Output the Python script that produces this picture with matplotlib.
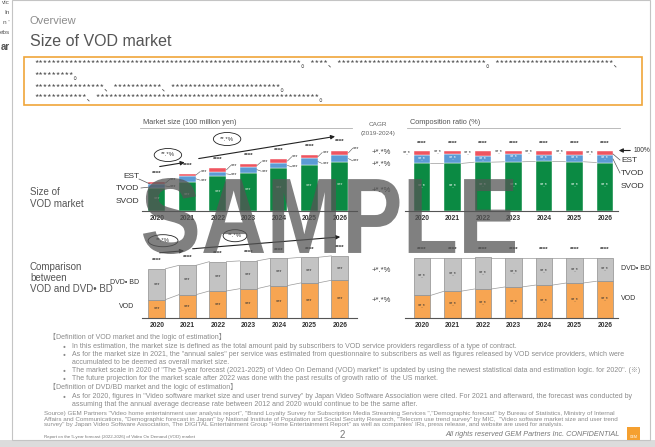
"""Slide recreation: Size of VOD market (market size, composition, VOD vs DVD/BD)."""
import matplotlib
matplotlib.use("Agg")
import matplotlib.pyplot as plt
from matplotlib.font_manager import FontProperties
from matplotlib.patches import Ellipse, PathPatch, Rectangle
from matplotlib.textpath import TextPath
from matplotlib.transforms import Affine2D
import numpy as np

plt.rcParams["font.family"] = ["Liberation Sans", "Noto Sans CJK JP", "DejaVu Sans"]

W, H = 655, 447

YEARS = ["2020", "2021", "2022", "2023", "2024", "2025", "2026"]
# market size (100 million yen)
SVOD = [2300, 2930, 3500, 3830, 4270, 4600, 4870]
TVOD = [400, 570, 430, 600, 560, 670, 730]
EST = [200, 200, 370, 240, 340, 330, 430]
DVD_BD = [5000, 4750, 4750, 4500, 4400, 4150, 3950]

SEGMENTS_VOD = ["EST", "TVOD", "SVOD"]
SEGMENTS_CMP = ["DVD• BD", "VOD"]
CAGR_VOD = ["+*.*%", "+*.*%", "+*.*%"]
CAGR_CMP = ["+*.*%", "+*.*%"]
GROWTH_VOD = ["**.*%", "**.*%"]
GROWTH_CMP = ["**.*%", "**.*%"]
TOTAL_LABEL = "****"
VALUE_LABEL = "***"
SHARE_LABEL = "**.*"

GREEN = "#0b8a43"
BLUE = "#5b9bd5"
RED = "#ef5560"
GRAY_BAR = "#c3c3c3"
ORANGE = "#f7a552"
TXT = "#404040"
LIGHT = "#8a8a8a"


def fx(x):
    return x / W


def fy(y):
    return 1 - y / H


def add_ax(fig, left, top, right, bottom, xlim, ylim):
    ax = fig.add_axes([fx(left), fy(bottom), (right - left) / W, (bottom - top) / H])
    ax.set_xlim(*xlim)
    ax.set_ylim(*ylim)
    ax.patch.set_alpha(0)
    for s in ["top", "right", "left"]:
        ax.spines[s].set_visible(False)
    ax.spines["bottom"].set_color("#555555")
    ax.spines["bottom"].set_linewidth(0.8)
    ax.set_yticks([])
    ax.set_xticks(range(len(YEARS)))
    ax.set_xticklabels(YEARS, fontsize=4.9, fontweight="bold", color="#333333")
    ax.tick_params(axis="x", length=0, pad=3.2)
    return ax


def ftext(fig, x, y, s, **kw):
    kw.setdefault("color", TXT)
    kw.setdefault("va", "center")
    return fig.text(fx(x), fy(y), s, **kw)


def fline(fig, xs, ys, **kw):
    fig.add_artist(plt.Line2D([fx(v) for v in xs], [fy(v) for v in ys],
                              transform=fig.transFigure, **kw))


def series_lines(ax, x, tops, half):
    for i in range(len(x) - 1):
        ax.plot([x[i] + half, x[i + 1] - half], [tops[i], tops[i + 1]],
                color="#9a9a9a", lw=0.5, zorder=1)


def main():
    fig = plt.figure(figsize=(W / 100, H / 100), dpi=100)
    fig.patch.set_facecolor("white")

    x = np.arange(len(YEARS))
    svod = np.array(SVOD, float)
    tvod = np.array(TVOD, float)
    est = np.array(EST, float)
    vod = svod + tvod + est
    dvd = np.array(DVD_BD, float)

    # slide frame and neighbouring slide strip
    fig.add_artist(Rectangle((0, 0), 1, fy(440), transform=fig.transFigure,
                             fc="#dcdcdc", ec="none", zorder=-5))
    fig.add_artist(Rectangle((fx(12), fy(440)), fx(650) - fx(12), 1 - fy(440),
                             transform=fig.transFigure, fc="white", ec="#c4c4c4", lw=0.8, zorder=-4))
    fig.add_artist(Rectangle((0, fy(440)), fx(10), 1 - fy(440),
                             transform=fig.transFigure, fc="white", ec="none", zorder=-4))
    for yy, s, kw in [(3, "vic", {}), (13, "In", {}), (23, "n '", {}), (33, "ebs", {}),
                      (47, "ar", {"fontsize": 7, "fontweight": "bold"})]:
        ftext(fig, 10, yy, s, ha="right", fontsize=kw.get("fontsize", 4.6),
              fontweight=kw.get("fontweight", "normal"), color="#555555")

    # header
    ftext(fig, 30, 21, "Overview", fontsize=8, color="#8c8c8c")
    ftext(fig, 30, 42, "Size of VOD market", fontsize=11.5, color="#555555")
    fig.add_artist(Rectangle((fx(24), fy(105)), fx(642) - fx(24), fy(57) - fy(105),
                             transform=fig.transFigure, fc="none", ec="#f0a53a", lw=1.2))
    cjk = ["Noto Sans CJK JP", "DejaVu Sans"]
    box_lines = [
        "*" * 61 + "。" + "****、" + "*" * 34 + "。" + "*" * 27 + "、",
        "*" * 9 + "。",
        "*" * 16 + "、" + "*" * 11 + "、" + "*" * 25 + "。",
        "*" * 12 + "、" + "*" * 51 + "。",
    ]
    for yy, s in zip([65, 76, 88, 99], box_lines):
        ftext(fig, 34, yy, s, fontsize=6.75, family=cjk, color="#555555")

    # ---- market size chart ----
    ax1 = add_ax(fig, 142, 121, 357, 211, (-0.49, 6.56), (0, 9000))
    bw = 0.56
    ax1.bar(x, svod, bw, color=GREEN, ec="white", lw=0.3, zorder=2)
    ax1.bar(x, tvod, bw, bottom=svod, color=BLUE, ec="white", lw=0.3, zorder=2)
    ax1.bar(x, est, bw, bottom=svod + tvod, color=RED, ec="white", lw=0.3, zorder=2)
    for i in x:
        ax1.text(i, vod[i] + 900, TOTAL_LABEL, ha="center", va="center", fontsize=4.5,
                 fontweight="bold", color="#333333")
        ax1.text(i, svod[i] * 0.55, VALUE_LABEL, ha="center", va="center", fontsize=4,
                 color="#d8e8d8")
        ax1.plot([i + bw / 2, i + 0.42], [vod[i] - est[i] / 2, vod[i] + 250], color="#555555", lw=0.4)
        ax1.text(i + 0.43, vod[i] + 250, VALUE_LABEL, ha="left", va="center", fontsize=4, color="#333333")
        ax1.plot([i + bw / 2, i + 0.42], [svod[i] + tvod[i] / 2, svod[i] + 150], color="#555555", lw=0.4)
        ax1.text(i + 0.43, svod[i] + 150, VALUE_LABEL, ha="left", va="center", fontsize=4, color="#333333")
    arrow = dict(arrowstyle="-|>", color="#222222", lw=0.8, mutation_scale=6)
    ax1.annotate("", xy=(1.0, 4900), xytext=(0.0, 4400), arrowprops=arrow)
    ax1.annotate("", xy=(5.93, 7500), xytext=(1.28, 5200), arrowprops=arrow)
    for (cx, cy), s in zip([(0.36, 5600), (2.3, 7200)], GROWTH_VOD):
        ax1.add_patch(Ellipse((cx, cy), 0.9, 1300, fc="white", ec="#222222", lw=0.6, clip_on=False))
        ax1.text(cx, cy, s, ha="center", va="center", fontsize=4.3, color="#333333")

    ftext(fig, 143, 123, "Market size (100 million yen)", fontsize=5.3, color="#555555")
    fline(fig, [140, 352], [128, 128], color="#b0b0b0", lw=0.6)
    ftext(fig, 378, 125, "CAGR", fontsize=4.6, ha="center", color="#666666")
    ftext(fig, 378, 134, "(2019-2024)", fontsize=4.6, ha="center", color="#666666")
    for yy, s in zip([153, 164, 190], CAGR_VOD):
        ftext(fig, 372, yy, s, fontsize=5.5)
    ftext(fig, 30, 198, "Size of\nVOD market", fontsize=7, color="#555555", linespacing=1.3)
    for yy, s in zip([176, 188, 202], SEGMENTS_VOD):
        ftext(fig, 139, yy, s, fontsize=6, ha="right", color="#333333")
    fline(fig, [139, 150], [179, 184], color="#555555", lw=0.5)
    fline(fig, [141, 150], [188, 187], color="#555555", lw=0.5)

    # ---- composition ratio chart ----
    ax2 = add_ax(fig, 405, 121, 618, 211, (-0.557, 6.43), (0, 150))
    bw2 = 0.55
    s_sh = svod / vod * 100
    t_sh = tvod / vod * 100
    e_sh = est / vod * 100
    ax2.bar(x, s_sh, bw2, color=GREEN, ec="white", lw=0.3, zorder=2)
    ax2.bar(x, t_sh, bw2, bottom=s_sh, color=BLUE, ec="white", lw=0.3, zorder=2)
    ax2.bar(x, e_sh, bw2, bottom=s_sh + t_sh, color=RED, ec="white", lw=0.3, zorder=2)
    series_lines(ax2, x, s_sh, bw2 / 2)
    for i in x:
        ax2.text(i, 113, TOTAL_LABEL, ha="center", va="center", fontsize=4.5,
                 fontweight="bold", color="#333333")
        ax2.text(i - 0.36, 100 - e_sh[i] / 2, SHARE_LABEL, ha="right", va="center",
                 fontsize=4, color="#333333")
        ax2.text(i, s_sh[i] + t_sh[i] / 2, SHARE_LABEL, ha="center", va="center", fontsize=4, color="white")
        ax2.text(i, s_sh[i] * 0.52, SHARE_LABEL, ha="center", va="center", fontsize=4, color="white")
    ftext(fig, 410, 123, "Composition ratio (%)", fontsize=5.3, color="#555555")
    fline(fig, [407, 620], [128, 128], color="#b0b0b0", lw=0.6)
    fig.add_artist(matplotlib.patches.FancyArrowPatch(
        (fx(633), fy(150.5)), (fx(616), fy(150.5)), transform=fig.transFigure,
        arrowstyle="-|>", mutation_scale=6, color="#222222", lw=0.8))
    ftext(fig, 634, 150.5, "100%", fontsize=4.8, color="#333333")
    for yy, s in zip([160, 173, 186], SEGMENTS_VOD):
        ftext(fig, 621, yy, s, fontsize=6, color="#333333")
    fline(fig, [613, 620], [154, 160], color="#555555", lw=0.5)
    fline(fig, [613, 620], [159, 173], color="#555555", lw=0.5)

    # ---- VOD vs DVD/BD (amount) ----
    ax3 = add_ax(fig, 142, 227.5, 357, 317.5, (-0.49, 6.56), (0, 14580))
    tot = vod + dvd
    ax3.bar(x, vod, bw, color=ORANGE, ec="#8f8f8f", lw=0.5, zorder=2)
    ax3.bar(x, dvd, bw, bottom=vod, color=GRAY_BAR, ec="#8f8f8f", lw=0.5, zorder=2)
    series_lines(ax3, x, vod, bw / 2)
    series_lines(ax3, x, tot, bw / 2)
    for i in x:
        ax3.text(i, tot[i] + 1300, TOTAL_LABEL, ha="center", va="center", fontsize=4.5,
                 fontweight="bold", color="#333333")
        ax3.text(i, vod[i] + dvd[i] / 2, VALUE_LABEL, ha="center", va="center", fontsize=4, color="#333333")
        ax3.text(i, vod[i] / 2, VALUE_LABEL, ha="center", va="center", fontsize=4, color="#333333")
    ax3.annotate("", xy=(0.98, 10850), xytext=(0.0, 10450), arrowprops=arrow)
    ax3.annotate("", xy=(6.1, 13090), xytext=(1.08, 11100), arrowprops=arrow)
    for (cx, cy, ew), s in zip([(0.2, 12440, 0.98), (2.56, 13250, 0.78)], GROWTH_CMP):
        ax3.add_patch(Ellipse((cx, cy), ew, 1950, fc="none", ec="#222222", lw=0.6, clip_on=False))
        ax3.text(cx, cy, s, ha="center", va="center", fontsize=4.3, color="#333333")
    ftext(fig, 30, 278, "Comparison\nbetween\nVOD and DVD• BD", fontsize=7, color="#555555",
          linespacing=1.15)
    ftext(fig, 139, 283, SEGMENTS_CMP[0], fontsize=5, ha="right", color="#333333")
    ftext(fig, 134, 307, SEGMENTS_CMP[1], fontsize=5, ha="right", color="#333333")
    for yy, s in zip([271, 301], CAGR_CMP):
        ftext(fig, 372, yy, s, fontsize=5.5)

    # ---- VOD vs DVD/BD (ratio) ----
    ax4 = add_ax(fig, 405, 227.5, 618, 317.5, (-0.557, 6.43), (0, 150))
    v_sh = vod / tot * 100
    d_sh = dvd / tot * 100
    ax4.bar(x, v_sh, bw2, color=ORANGE, ec="#8f8f8f", lw=0.5, zorder=2)
    ax4.bar(x, d_sh, bw2, bottom=v_sh, color=GRAY_BAR, ec="#8f8f8f", lw=0.5, zorder=2)
    series_lines(ax4, x, v_sh, bw2 / 2)
    series_lines(ax4, x, v_sh + d_sh, bw2 / 2)
    for i in x:
        ax4.text(i, 113, TOTAL_LABEL, ha="center", va="center", fontsize=4.5,
                 fontweight="bold", color="#333333")
        ax4.text(i, v_sh[i] + d_sh[i] / 2, SHARE_LABEL, ha="center", va="center", fontsize=4, color="#333333")
        ax4.text(i, v_sh[i] / 2, SHARE_LABEL, ha="center", va="center", fontsize=4, color="#333333")
    ftext(fig, 621, 268, SEGMENTS_CMP[0], fontsize=5, color="#333333")
    ftext(fig, 621, 298, SEGMENTS_CMP[1], fontsize=5, color="#333333")

    # ---- footnotes ----
    notes = [
        (49, 337, "【Definition of VOD market and the logic of estimation】"),
        (72, 346, "In this estimation, the market size is defined as the total amount paid by subscribers to VOD service providers regardless of a type of contract."),
        (72, 354, "As for the market size in 2021, the \"annual sales\" per service was estimated from questionnaire to subscribers as well as figures released by VOD service providers, which were"),
        (72, 362, "accumulated to be deemed as overall market size."),
        (72, 370, "The market scale in 2020 of \"The 5-year forecast (2021-2025) of Video On Demand (VOD) market\" is updated by using the newest statistical data and estimation logic. for 2020\". (※)"),
        (72, 378.5, "The future projection for the market scale after 2022 was done with the past results of growth ratio of  the US market."),
        (49, 387, "【Definition of DVD/BD market and the logic of estimation】"),
        (72, 396, "As for 2020, figures in \"Video software market size and user trend survey\" by Japan Video Software Association were cited. For 2021 and afterward, the forecast was conducted by"),
        (72, 404, "assuming that the annual average decrease rate between 2012 and 2020 would continue to be the same after."),
    ]
    for xx, yy, s in notes:
        ftext(fig, xx, yy, s, fontsize=5.0, color=LIGHT)
    for yy in [346, 354, 370, 378.5, 396]:
        ftext(fig, 63, yy, "●", fontsize=3.5, color=LIGHT)
    sources = [
        "Source) GEM Partners \"Video home entertainment user analysis report\", \"Brand Loyalty Survey for Subscription Media Streaming Services \",\"Demographic forecast\" by Bureau of Statistics, Ministry of Internal",
        "Affairs and Communications, \"Demographic forecast in Japan\" by National Institute of Population and Social Security Research, \"Telecom use trend survey\" by MIC,  \"Video software market size and user trend",
        "survey\" by Japan Video Software Association, The DIGITAL Entertainment Group \"Home Entertainment Report\" as well as companies' IRs, press release, and website are used for analysis.",
    ]
    for yy, s in zip([413.5, 419, 424.5], sources):
        ftext(fig, 44, yy, s, fontsize=4.5, color=LIGHT, linespacing=1)
    ftext(fig, 44, 437, "Report on the 5-year forecast (2022-2026) of Video On Demand (VOD) market",
          fontsize=3.2, color="#777777")
    ftext(fig, 340, 435, "2", fontsize=7, color="#777777")
    ftext(fig, 620, 435, "All rights reserved GEM Partners Inc. CONFIDENTIAL", fontsize=5.2,
          style="italic", ha="right", color="#777777")
    fig.add_artist(Rectangle((fx(627), fy(440)), fx(13), fx(13) * W / H, transform=fig.transFigure,
                             fc="#f5a030", ec="none"))
    ftext(fig, 633.5, 437, "GEM", fontsize=2.5, ha="center", color="white")

    # watermark
    fp = FontProperties(family="Liberation Sans", weight="bold")
    tp = TextPath((0, 0), "SAMPLE", size=100, prop=fp)
    ext = tp.get_extents()
    x0, x1, y0, y1 = 143, 515, 178, 254
    tr = (Affine2D().translate(-ext.x0, -ext.y0)
          .scale((x1 - x0) / ext.width, (y1 - y0) / ext.height)
          .translate(x0, H - y1)
          .scale(1 / W, 1 / H)) + fig.transFigure
    fig.add_artist(PathPatch(tp, transform=tr, fc="#555555", ec="none", alpha=0.75, zorder=50))

    fig.savefig("out.png", dpi=100, facecolor=fig.get_facecolor())


if __name__ == "__main__":
    main()
